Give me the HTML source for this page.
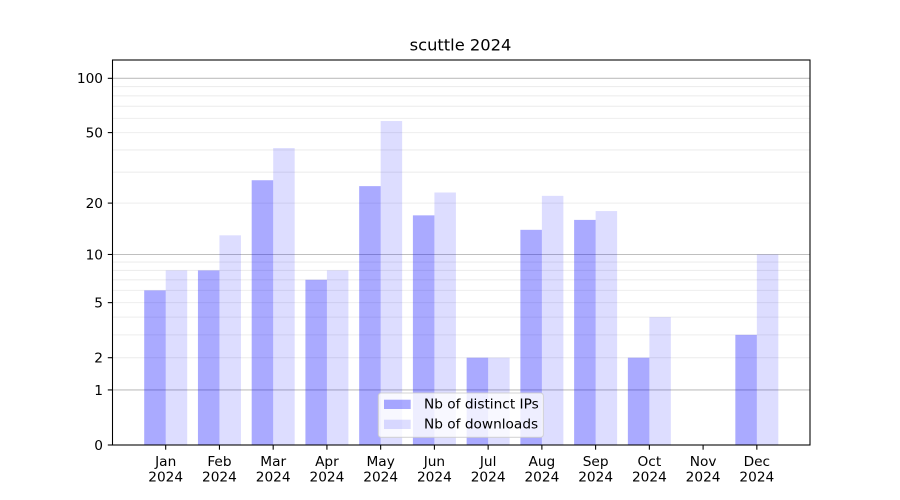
<!DOCTYPE html>
<html><head><meta charset="utf-8"><style>
html,body{margin:0;padding:0;background:#fff;}
svg{display:block;}
text{font-family:"DejaVu Sans","Liberation Sans",sans-serif;fill:#000;}
</style></head><body>
<svg width="900" height="500" viewBox="0 0 900 500" xmlns="http://www.w3.org/2000/svg">
<rect x="0" y="0" width="900" height="500" fill="#fff"/>
<!-- minor grid -->
<g stroke="#000" stroke-opacity="0.07" stroke-width="1.07">
<line x1="112.5" x2="810" y1="357.71" y2="357.71"/>
<line x1="112.5" x2="810" y1="334.85" y2="334.85"/>
<line x1="112.5" x2="810" y1="317.13" y2="317.13"/>
<line x1="112.5" x2="810" y1="302.64" y2="302.64"/>
<line x1="112.5" x2="810" y1="290.39" y2="290.39"/>
<line x1="112.5" x2="810" y1="279.78" y2="279.78"/>
<line x1="112.5" x2="810" y1="270.42" y2="270.42"/>
<line x1="112.5" x2="810" y1="262.05" y2="262.05"/>
<line x1="112.5" x2="810" y1="203.10" y2="203.10"/>
<line x1="112.5" x2="810" y1="172.16" y2="172.16"/>
<line x1="112.5" x2="810" y1="149.94" y2="149.94"/>
<line x1="112.5" x2="810" y1="132.60" y2="132.60"/>
<line x1="112.5" x2="810" y1="118.37" y2="118.37"/>
<line x1="112.5" x2="810" y1="106.31" y2="106.31"/>
<line x1="112.5" x2="810" y1="95.84" y2="95.84"/>
<line x1="112.5" x2="810" y1="86.59" y2="86.59"/>
</g>
<!-- major grid -->
<g stroke="#000" stroke-opacity="0.25" stroke-width="1.07">
<line x1="112.5" x2="810" y1="389.93" y2="389.93"/>
<line x1="112.5" x2="810" y1="254.48" y2="254.48"/>
<line x1="112.5" x2="810" y1="78.31" y2="78.31"/>
</g>
<!-- IP bars -->
<g fill="#0000ff" fill-opacity="0.333">
<rect x="144.20" y="290.39" width="21.5" height="154.61"/>
<rect x="197.94" y="270.42" width="21.5" height="174.58"/>
<rect x="251.68" y="180.24" width="21.5" height="264.76"/>
<rect x="305.42" y="279.78" width="21.5" height="165.22"/>
<rect x="359.16" y="186.13" width="21.5" height="258.87"/>
<rect x="412.90" y="215.35" width="21.5" height="229.65"/>
<rect x="466.64" y="357.71" width="21.5" height="87.29"/>
<rect x="520.38" y="229.83" width="21.5" height="215.17"/>
<rect x="574.12" y="219.89" width="21.5" height="225.11"/>
<rect x="627.86" y="357.71" width="21.5" height="87.29"/>
<rect x="735.34" y="334.85" width="21.5" height="110.15"/>
</g>
<!-- downloads bars -->
<g fill="#0000ff" fill-opacity="0.133">
<rect x="165.70" y="270.42" width="21.5" height="174.58"/>
<rect x="219.44" y="235.31" width="21.5" height="209.69"/>
<rect x="273.18" y="148.03" width="21.5" height="296.97"/>
<rect x="326.92" y="270.42" width="21.5" height="174.58"/>
<rect x="380.66" y="121.02" width="21.5" height="323.98"/>
<rect x="434.40" y="192.49" width="21.5" height="252.51"/>
<rect x="488.14" y="357.71" width="21.5" height="87.29"/>
<rect x="541.88" y="195.87" width="21.5" height="249.13"/>
<rect x="595.62" y="211.05" width="21.5" height="233.95"/>
<rect x="649.36" y="317.13" width="21.5" height="127.87"/>
<rect x="756.84" y="254.48" width="21.5" height="190.52"/>
</g>
<!-- spines -->
<rect x="112.5" y="60" width="697.5" height="385" fill="none" stroke="#000" stroke-width="1.07"/>
<!-- y ticks -->
<g stroke="#000" stroke-width="1.07">
<line x1="107.8" x2="112.5" y1="445" y2="445"/>
<line x1="107.8" x2="112.5" y1="389.93" y2="389.93"/>
<line x1="107.8" x2="112.5" y1="357.71" y2="357.71"/>
<line x1="107.8" x2="112.5" y1="302.64" y2="302.64"/>
<line x1="107.8" x2="112.5" y1="254.48" y2="254.48"/>
<line x1="107.8" x2="112.5" y1="203.10" y2="203.10"/>
<line x1="107.8" x2="112.5" y1="132.60" y2="132.60"/>
<line x1="107.8" x2="112.5" y1="78.31" y2="78.31"/>
</g>
<g font-size="13.7" text-anchor="end">
<text x="103" y="449.9">0</text>
<text x="103" y="394.8">1</text>
<text x="103" y="362.6">2</text>
<text x="103" y="307.5">5</text>
<text x="103" y="259.4">10</text>
<text x="103" y="208.0">20</text>
<text x="103" y="137.5">50</text>
<text x="103" y="83.2">100</text>
</g>
<!-- x ticks -->
<g stroke="#000" stroke-width="1.07">
<line x1="165.70" x2="165.70" y1="445" y2="449.7"/>
<line x1="219.44" x2="219.44" y1="445" y2="449.7"/>
<line x1="273.18" x2="273.18" y1="445" y2="449.7"/>
<line x1="326.92" x2="326.92" y1="445" y2="449.7"/>
<line x1="380.66" x2="380.66" y1="445" y2="449.7"/>
<line x1="434.40" x2="434.40" y1="445" y2="449.7"/>
<line x1="488.14" x2="488.14" y1="445" y2="449.7"/>
<line x1="541.88" x2="541.88" y1="445" y2="449.7"/>
<line x1="595.62" x2="595.62" y1="445" y2="449.7"/>
<line x1="649.36" x2="649.36" y1="445" y2="449.7"/>
<line x1="703.10" x2="703.10" y1="445" y2="449.7"/>
<line x1="756.84" x2="756.84" y1="445" y2="449.7"/>
</g>
<g font-size="13.7" text-anchor="middle">
<text x="165.70" y="466">Jan</text><text x="165.70" y="481.7">2024</text>
<text x="219.44" y="466">Feb</text><text x="219.44" y="481.7">2024</text>
<text x="273.18" y="466">Mar</text><text x="273.18" y="481.7">2024</text>
<text x="326.92" y="466">Apr</text><text x="326.92" y="481.7">2024</text>
<text x="380.66" y="466">May</text><text x="380.66" y="481.7">2024</text>
<text x="434.40" y="466">Jun</text><text x="434.40" y="481.7">2024</text>
<text x="488.14" y="466">Jul</text><text x="488.14" y="481.7">2024</text>
<text x="541.88" y="466">Aug</text><text x="541.88" y="481.7">2024</text>
<text x="595.62" y="466">Sep</text><text x="595.62" y="481.7">2024</text>
<text x="649.36" y="466">Oct</text><text x="649.36" y="481.7">2024</text>
<text x="703.10" y="466">Nov</text><text x="703.10" y="481.7">2024</text>
<text x="756.84" y="466">Dec</text><text x="756.84" y="481.7">2024</text>
</g>
<!-- title -->
<text x="460.5" y="50.7" font-size="16.3" text-anchor="middle">scuttle 2024</text>
<!-- legend -->
<rect x="378.3" y="393" width="165" height="44.3" rx="2.8" ry="2.8" fill="#fff" fill-opacity="0.8" stroke="#cccccc" stroke-opacity="0.8" stroke-width="1.07"/>
<rect x="384" y="399.7" width="26.7" height="9.3" fill="#0000ff" fill-opacity="0.333"/>
<rect x="384" y="419.7" width="26.7" height="9.3" fill="#0000ff" fill-opacity="0.133"/>
<text x="424" y="408.7" font-size="13.7">Nb of distinct IPs</text>
<text x="424" y="428.7" font-size="13.7">Nb of downloads</text>
</svg>
</body></html>
